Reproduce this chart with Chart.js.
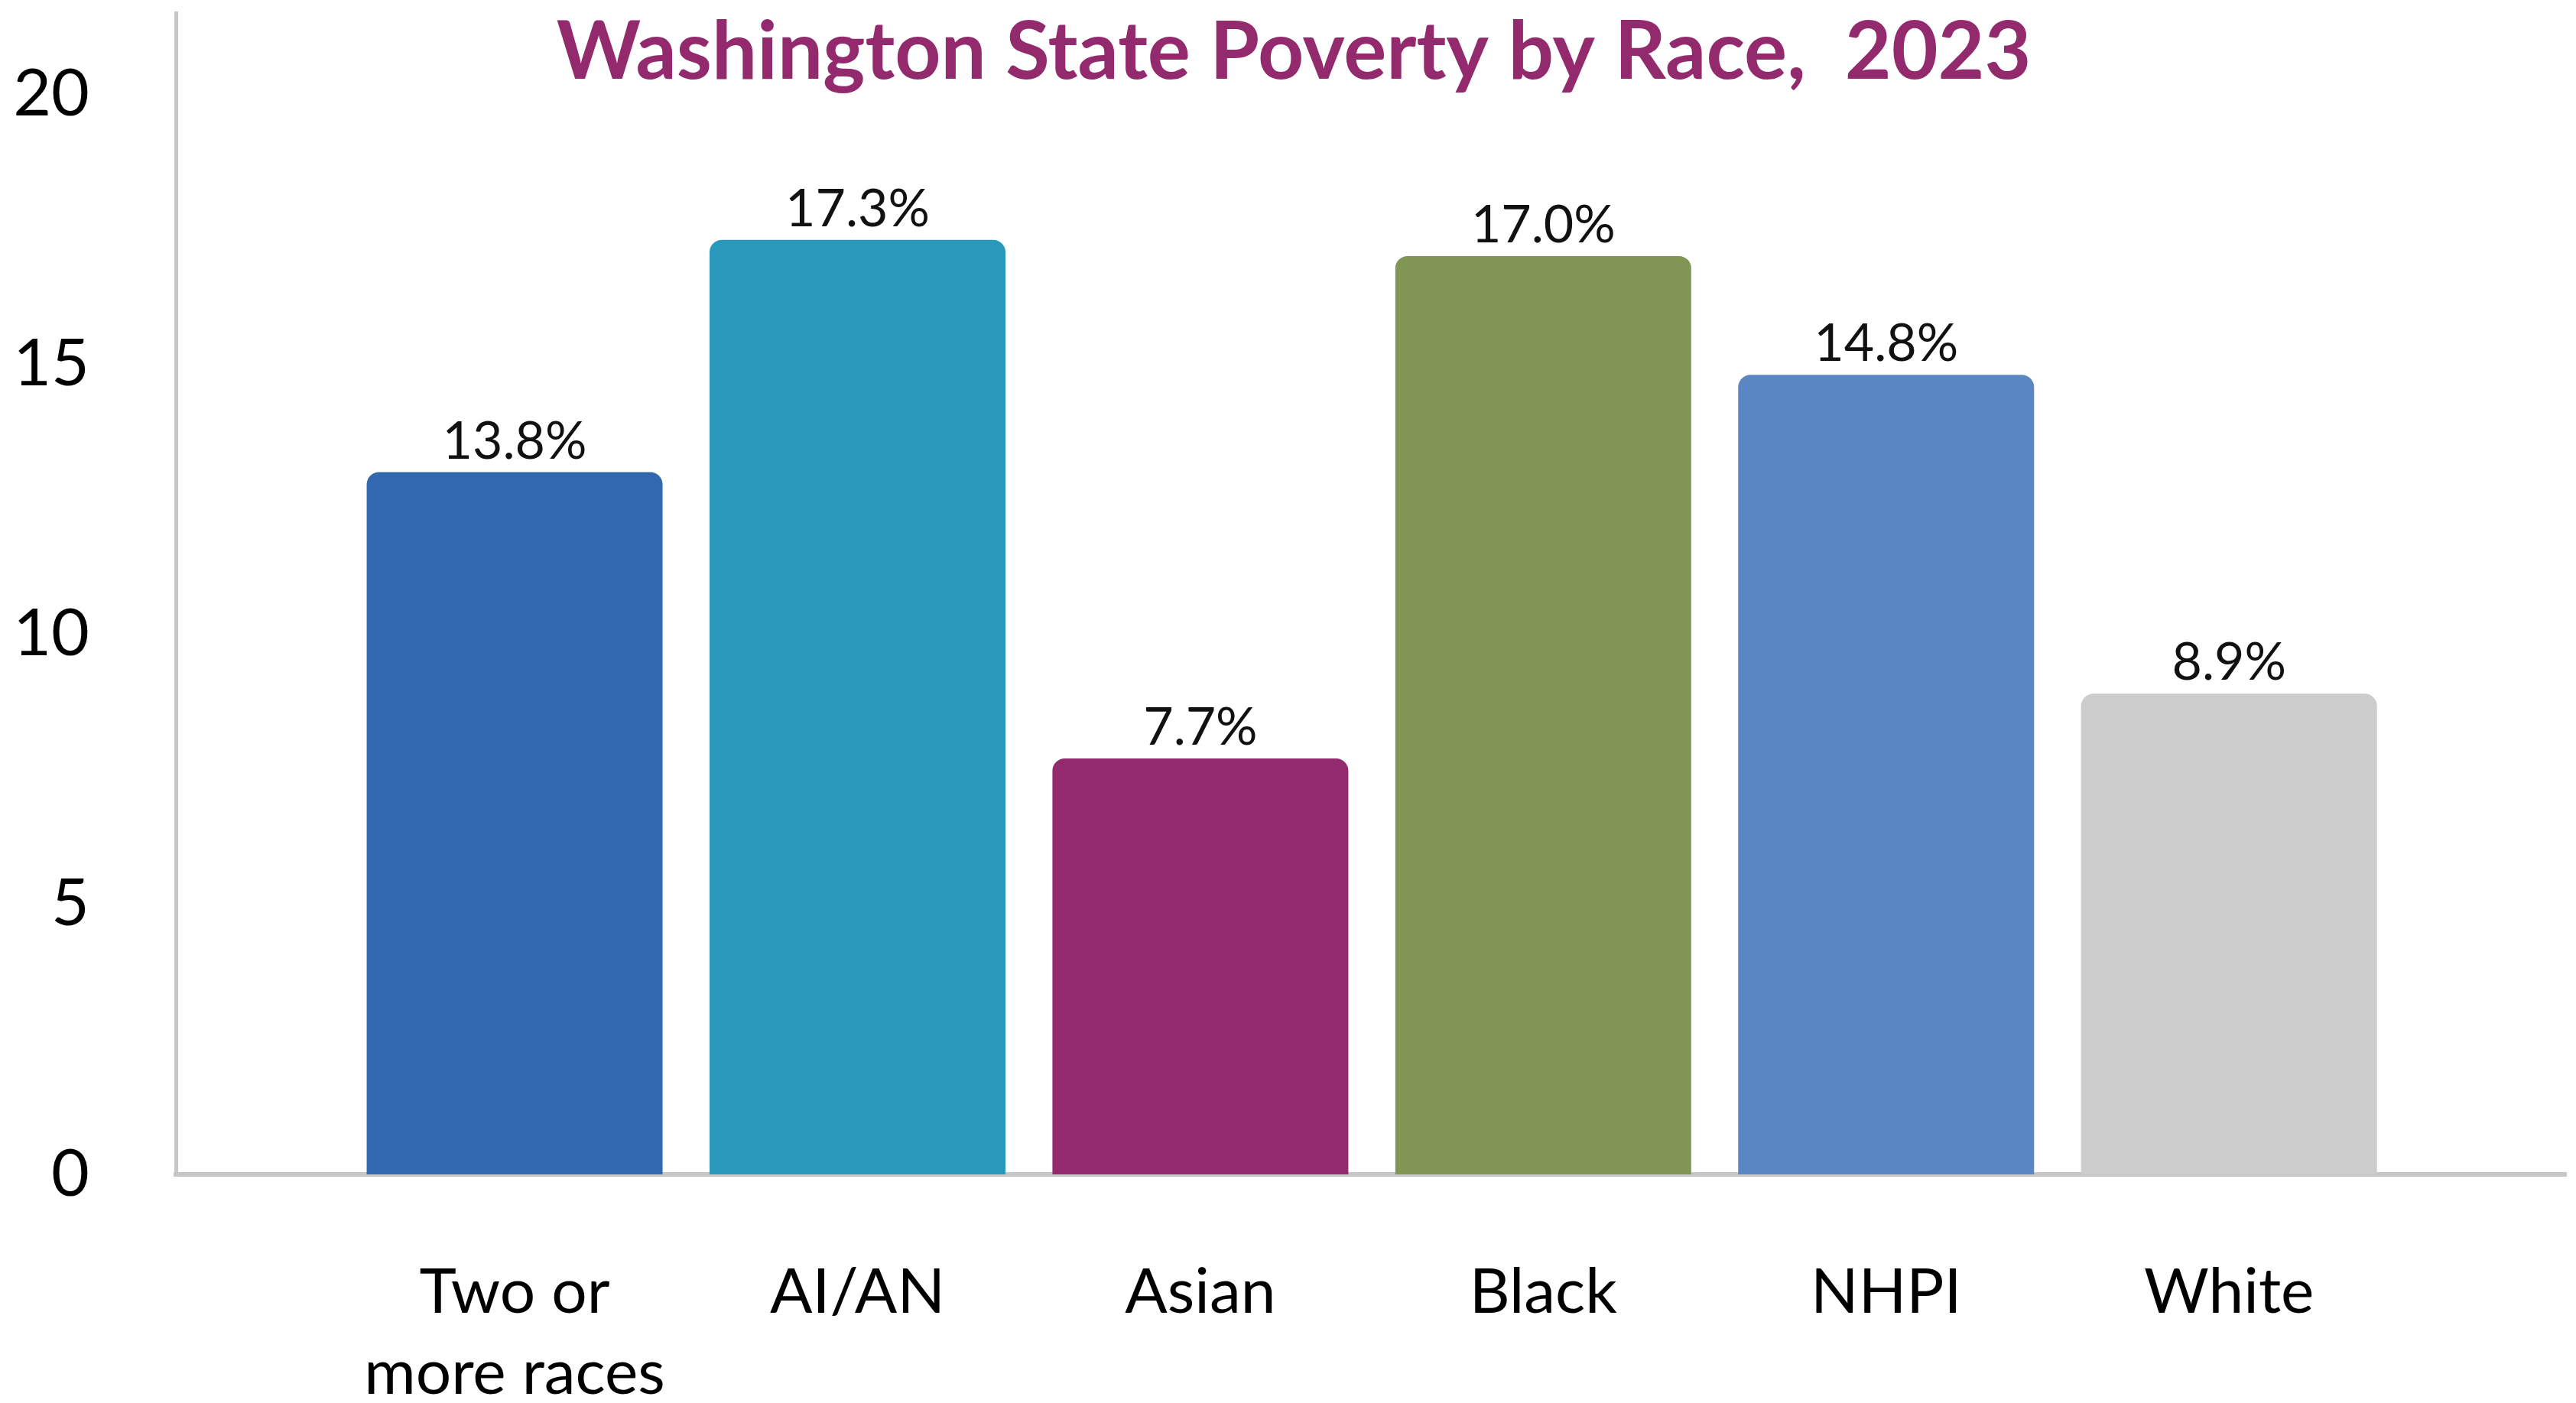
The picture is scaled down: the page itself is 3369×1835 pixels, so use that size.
<!DOCTYPE html>
<html>
<head>
<meta charset="utf-8">
<title>Washington State Poverty by Race, 2023</title>
<script src="https://cdn.jsdelivr.net/npm/chart.js@4.4.1/dist/chart.umd.min.js"></script>
<style>
  html, body { margin: 0; padding: 0; background: #fff; }
  #wrap { width: 3369px; height: 1835px; }
</style>
</head>
<body>
<div id="wrap"><canvas id="chartPoverty"></canvas></div>
<script>
var categories = ["Two or more races", "AI/AN", "Asian", "Black", "NHPI", "White"];
var povertyRate = [13.0, 17.3, 7.7, 17.0, 14.8, 8.9];
var valueLabels = ["13.8%", "17.3%", "7.7%", "17.0%", "14.8%", "8.9%"];
var yTicks = [0, 5, 10, 15, 20];

var barColors = ['#3168b0', '#2899bb', '#922a6d', '#819555', '#5a87c2', '#cccccc'];
var fontFamily = "Lato, 'Noto Sans', sans-serif";

(function () {
  document.addEventListener("DOMContentLoaded", init)
  function init() {

    /**
     * Value labels over the bars
     */
    var valueLabelPlugin = {
      id: 'valueLabels',
      afterDatasetsDraw: function (chart) {
        var ctx = chart.ctx;
        var meta = chart.getDatasetMeta(0);
        ctx.save();
        ctx.fillStyle = '#111';
        ctx.font = '68px ' + fontFamily;
        ctx.textAlign = 'center';
        ctx.textBaseline = 'alphabetic';
        meta.data.forEach(function (bar, i) {
          ctx.fillText(valueLabels[i], bar.x, bar.y - 18);
        });
        ctx.restore();
      }
    };

    /**
     * Title sits inside the plot area, over the bars
     */
    var titlePlugin = {
      id: 'insideTitle',
      afterDraw: function (chart) {
        var ctx = chart.ctx;
        ctx.save();
        ctx.fillStyle = '#922a6d';
        ctx.font = 'bold 105px ' + fontFamily;
        ctx.textAlign = 'center';
        ctx.textBaseline = 'alphabetic';
        ctx.fillText('Washington State Poverty by Race,  2023', 1692, 103);
        ctx.restore();
      }
    };

    var ctx = document.getElementById('chartPoverty').getContext('2d');
    var chartPoverty = new Chart(ctx, {
      type: 'bar',
      data: {
        datasets: [{
          label: 'Poverty rate',
          data: povertyRate.map(function (v, i) { return { x: i, y: v }; }),
          backgroundColor: barColors,
          borderRadius: { topLeft: 16, topRight: 16, bottomLeft: 0, bottomRight: 0 },
          borderSkipped: 'start',
          barPercentage: 0.863,
          categoryPercentage: 1
        }]
      },
      options: {
        responsive: true,
        maintainAspectRatio: false,
        animation: false,
        layout: { padding: { top: 17, right: 13, left: 0, bottom: 0 } },
        plugins: {
          legend: { display: false },
          tooltip: { enabled: false }
        },
        scales: {
          x: {
            type: 'linear',
            offset: false,
            min: -0.988,
            max: 5.983,
            afterBuildTicks: function (scale) {
              scale.ticks = categories.map(function (c, i) { return { value: i }; });
            },
            afterFit: function (scale) {
              scale.height = 299;
              scale.paddingLeft = 0;
              scale.paddingRight = 0;
            },
            grid: { display: false, drawTicks: false, offset: false },
            border: { display: true, color: '#c6c6c6', width: 6 },
            ticks: {
              autoSkip: false,
              maxRotation: 0,
              padding: 102,
              color: '#000',
              font: { family: fontFamily, size: 82, lineHeight: 1.29 },
              callback: function (value) {
                var name = categories[value];
                if (name === 'Two or more races') return ['Two or', 'more races'];
                return name;
              }
            }
          },
          y: {
            min: 0,
            max: 21.5,
            afterBuildTicks: function (scale) {
              scale.ticks = yTicks.map(function (v) { return { value: v }; });
            },
            afterFit: function (scale) {
              scale.width = 230;
              scale.paddingTop = 0;
              scale.paddingBottom = 0;
            },
            grid: { display: false, drawTicks: false },
            border: { display: true, color: '#c6c6c6', width: 5 },
            ticks: {
              padding: 113,
              color: '#000',
              font: { family: fontFamily, size: 86 }
            }
          }
        }
      },
      plugins: [valueLabelPlugin, titlePlugin]
    });
  }
})();
</script>
</body>
</html>
